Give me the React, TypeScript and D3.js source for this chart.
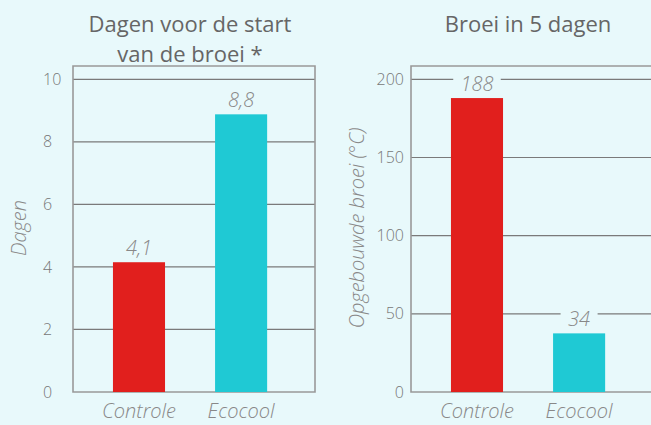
import * as d3 from 'd3'

const categories = ['Controle', 'Ecocool']

// left: dagen voor de start van de broei
const leftTitle = ['Dagen voor de start', 'van de broei *']
const leftAxisTitle = 'Dagen'
const leftValues = [4.15, 8.88]
const leftLabels = ['4,1', '8,8']
const leftTicks = [0, 2, 4, 6, 8, 10]

// right: broei in 5 dagen
const rightTitle = ['Broei in 5 dagen']
const rightAxisTitle = 'Opgebouwde broei (°C)'
const rightValues = [188, 37.5]
const rightLabels = ['188', '34']
const rightTicks = [0, 50, 100, 150, 200]

const barColors = ['#e11f1d', '#1fc9d4']
const bg = '#e8f9fb'
const font = '"Open Sans", sans-serif'

type PanelProps = {
  x0: number
  title: string[]
  axisTitle: string
  values: number[]
  labels: string[]
  ticks: number[]
  max: number
  tickX: number
  tickAnchor: string
}

const top = 66
const bottom = 392
const panelW = 242

function Panel({ x0, title, values, labels, ticks, max, tickX, tickAnchor }: PanelProps) {
  const x = d3.scaleBand()
    .domain(categories)
    .range([x0, x0 + panelW])
    .paddingInner(0.49)
    .paddingOuter(0.43)
    .align(0.455)

  const y = d3.scaleLinear()
    .domain([0, max])
    .range([bottom, 79.3])

  const cx = x0 + 117

  return (
    <g>
      {title.map((t, i) => (
        <text key={t} x={cx} y={32 + i * 30} textAnchor="middle"
          fontSize={22} fill="#666" fontFamily={font}>{t}</text>
      ))}

      {/* gridlines */}
      {ticks.filter(t => t > 0).map(t => (
        <line key={t} x1={x0} x2={x0 + panelW} y1={y(t)} y2={y(t)} stroke="#7a7a7a" strokeWidth={1.2} />
      ))}

      {/* frame */}
      <path d={`M${x0},${top}H${x0 + panelW}V${bottom}H${x0}Z`} fill="none" stroke="#999" strokeWidth={1.6} />

      {/* ticks */}
      {ticks.map(t => (
        <text key={t} x={tickX} y={y(t)} dy="0.35em" textAnchor={tickAnchor}
          fontSize={16} fontWeight={300} fill="#777" fontFamily={font}>{t}</text>
      ))}

      {/* bars */}
      {categories.map((c, i) => (
        <rect key={c} x={x(c)} y={y(values[i])} width={x.bandwidth()} height={bottom - y(values[i])} fill={barColors[i]} />
      ))}

      {/* value labels */}
      {categories.map((c, i) => {
        const w = labels[i].length * 10.5 + 16
        const mx = (x(c) ?? 0) + x.bandwidth() / 2
        const ly = y(values[i]) - 7
        return (
          <g key={c}>
            <rect x={mx - w / 2} y={ly - 17} width={w} height={20} fill={bg} />
            <text x={mx} y={ly} textAnchor="middle" fontSize={20} fontStyle="italic" fontWeight={300}
              fill="#888" fontFamily={font}>{labels[i]}</text>
          </g>
        )
      })}

      {/* category labels */}
      {categories.map(c => (
        <text key={c} x={(x(c) ?? 0) + x.bandwidth() / 2} y={418} textAnchor="middle"
          fontSize={20} fontStyle="italic" fontWeight={300} fill="#888" fontFamily={font}>{c}</text>
      ))}
    </g>
  )
}

export default function App() {
  return (
    <div style={{ position: 'absolute', left: 0, top: 0 }}>
      <svg width={651} height={425} style={{ display: 'block', background: bg }}>
        <Panel x0={73} title={leftTitle} axisTitle={leftAxisTitle} values={leftValues} labels={leftLabels}
          ticks={leftTicks} max={10} tickX={43} tickAnchor="start" />
        <Panel x0={411} title={rightTitle} axisTitle={rightAxisTitle} values={rightValues} labels={rightLabels}
          ticks={rightTicks} max={200} tickX={404} tickAnchor="end" />
        <text transform="translate(26,228) rotate(-90)" textAnchor="middle" fontSize={20} fontStyle="italic"
          fontWeight={300} fill="#888" fontFamily={font}>{leftAxisTitle}</text>
        <text transform="translate(364,228) rotate(-90)" textAnchor="middle" fontSize={20} fontStyle="italic"
          fontWeight={300} fill="#888" fontFamily={font}>{rightAxisTitle}</text>
      </svg>
    </div>
  )
}
